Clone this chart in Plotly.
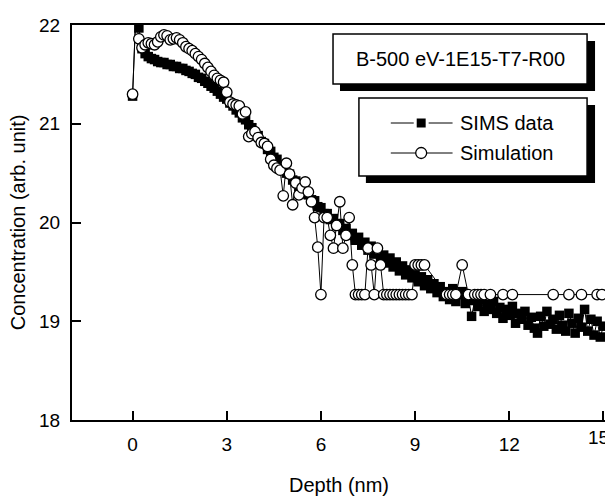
import plotly.graph_objects as go

# ---------------- data ----------------
sims_depth = [0.0, 0.1, 0.2, 0.3, 0.4, 0.5, 0.6, 0.7, 0.8, 0.9,
              1.0, 1.1, 1.2, 1.3, 1.4, 1.5, 1.6, 1.7, 1.8, 1.9,
              2.0, 2.1, 2.2, 2.3, 2.4, 2.5, 2.6, 2.7, 2.8, 2.9,
              3.0, 3.1, 3.2, 3.3, 3.4, 3.5, 3.6, 3.7, 3.8, 3.9,
              4.0, 4.1, 4.2, 4.3, 4.4, 4.5, 4.6, 4.7, 4.8, 4.9,
              5.0, 5.1, 5.2, 5.3, 5.4, 5.5, 5.6, 5.7, 5.8, 5.9,
              6.0, 6.1, 6.2, 6.3, 6.4, 6.5, 6.6, 6.7, 6.8, 6.9,
              7.0, 7.1, 7.2, 7.3, 7.4, 7.5, 7.6, 7.7, 7.8, 7.9,
              8.0, 8.1, 8.2, 8.3, 8.4, 8.5, 8.6, 8.7, 8.8, 8.9,
              9.0, 9.1, 9.2, 9.3, 9.4, 9.5, 9.6, 9.7, 9.8, 9.9,
              10.0, 10.1, 10.2, 10.3, 10.4, 10.5, 10.6, 10.7, 10.8, 10.9,
              11.0, 11.1, 11.2, 11.3, 11.4, 11.5, 11.6, 11.7, 11.8, 11.9,
              12.0, 12.1, 12.2, 12.3, 12.4, 12.5, 12.6, 12.7, 12.8, 12.9,
              13.0, 13.1, 13.2, 13.3, 13.4, 13.5, 13.6, 13.7, 13.8, 13.9,
              14.0, 14.1, 14.2, 14.3, 14.4, 14.5, 14.6, 14.7, 14.8, 14.9,
              15.0]
sims_conc = [21.28, 22.10, 21.97, 21.76, 21.71, 21.68, 21.66, 21.65, 21.63, 21.62,
             21.62, 21.60, 21.60, 21.58, 21.58, 21.56, 21.56, 21.54, 21.53, 21.51,
             21.50, 21.47, 21.46, 21.43, 21.41, 21.38, 21.36, 21.33, 21.30, 21.27,
             21.25, 21.21, 21.18, 21.14, 21.11, 21.06, 21.04, 20.99, 20.96, 20.90,
             20.88, 20.82, 20.80, 20.74, 20.72, 20.66, 20.64, 20.58, 20.56, 20.50,
             20.49, 20.43, 20.42, 20.36, 20.35, 20.29, 20.28, 20.23, 20.22, 20.16,
             20.15, 20.09, 20.09, 20.03, 20.04, 19.97, 19.99, 19.92, 19.94, 19.87,
             19.89, 19.82, 19.85, 19.77, 19.80, 19.72, 19.76, 19.68, 19.72, 19.64,
             19.67, 19.59, 19.64, 19.55, 19.60, 19.51, 19.56, 19.47, 19.52, 19.44,
             19.48, 19.40, 19.45, 19.36, 19.42, 19.33, 19.38, 19.29, 19.35, 19.25,
             19.30, 19.22, 19.33, 19.20, 19.27, 19.30, 19.18, 19.24, 19.05, 19.21,
             19.15, 19.22, 19.10, 19.17, 19.12, 19.20, 19.08, 19.14, 19.03, 19.12,
             19.06, 19.15, 18.98, 19.08, 19.02, 19.10, 18.96, 19.04, 18.93, 18.88,
             19.05, 18.95, 19.10, 18.97, 19.02, 18.92, 19.06, 18.96, 18.90, 19.08,
             18.98, 18.88, 19.03, 18.94, 19.12, 18.90, 19.02, 18.86, 19.00, 18.84,
             18.95]

sim_depth = [0.0, 0.1, 0.2, 0.3, 0.4, 0.5, 0.6, 0.7, 0.8, 0.9,
             1.0, 1.1, 1.2, 1.3, 1.4, 1.5, 1.6, 1.7, 1.8, 1.9,
             2.0, 2.1, 2.2, 2.3, 2.4, 2.5, 2.6, 2.7, 2.8, 2.9,
             3.0, 3.1, 3.2, 3.3, 3.4, 3.5, 3.6, 3.7, 3.8, 3.9,
             4.0, 4.1, 4.2, 4.3, 4.4, 4.5, 4.6, 4.7, 4.8, 4.9,
             5.0, 5.1, 5.2, 5.3, 5.4, 5.5, 5.6, 5.7, 5.8, 5.9,
             6.0, 6.1, 6.2, 6.3, 6.4, 6.5, 6.6, 6.7, 6.8, 6.9,
             7.0, 7.1, 7.2, 7.3, 7.4, 7.5, 7.6, 7.7, 7.8, 7.9,
             8.0, 8.1, 8.2, 8.3, 8.4, 8.5, 8.6, 8.7, 8.8, 8.9,
             9.0, 9.1, 9.2, 9.3, 10.0, 10.1, 10.2, 10.3, 10.5, 10.7,
             10.9, 11.0, 11.1, 11.2, 11.4, 11.8, 12.1, 13.4, 13.9, 14.3,
             14.8, 14.95]
sim_conc = [21.30, 22.07, 21.86, 21.77, 21.80, 21.82, 21.81, 21.80, 21.83, 21.88,
            21.90, 21.89, 21.85, 21.86, 21.87, 21.85, 21.82, 21.78, 21.76, 21.74,
            21.71, 21.68, 21.65, 21.61, 21.57, 21.53, 21.49, 21.46, 21.44, 21.42,
            21.32, 21.22, 21.20, 21.19, 21.18, 21.10, 21.12, 20.87, 20.90, 20.92,
            20.86, 20.81, 20.80, 20.77, 20.64, 20.58, 20.55, 20.53, 20.27, 20.60,
            20.49, 20.18, 20.40, 20.28, 20.35, 20.41, 20.31, 20.21, 20.05, 19.75,
            19.27, 20.05, 20.05, 19.87, 19.74, 19.97, 20.21, 19.74, 19.87, 20.05,
            19.57, 19.27, 19.27, 19.27, 19.27, 19.74, 19.57, 19.27, 19.74, 19.57,
            19.27, 19.27, 19.27, 19.27, 19.27, 19.27, 19.27, 19.27, 19.27, 19.27,
            19.57, 19.57, 19.57, 19.57, 19.27, 19.27, 19.27, 19.27, 19.57, 19.27,
            19.27, 19.27, 19.27, 19.27, 19.27, 19.27, 19.27, 19.27, 19.27, 19.27,
            19.27, 19.27]

x_ticks = [0, 3, 6, 9, 12, 15]
y_ticks = [18, 19, 20, 21, 22]
series_names = ["SIMS data", "Simulation"]
box_label = "B-500 eV-1E15-T7-R00"
x_title = "Depth (nm)"
y_title = "Concentration (arb. unit)"

# ---------------- layout geometry (page pixels) ----------------
OFF = 8                        # page body margin of the html page
W, H = 613 - OFF, 497 - OFF    # figure size that fits the window
L, R, T, B = 72, 607, 25, 420  # plot area in page pixels
FONT = "Liberation Sans, Arial, Helvetica, sans-serif"


def px(x):
    return (x - L) / (R - L)


def py(y):
    return (B - y) / (B - T)


fig = go.Figure()
fig.add_trace(go.Scatter(
    x=sims_depth, y=sims_conc, mode="lines+markers", name=series_names[0],
    line=dict(color="black", width=1),
    marker=dict(symbol="square", size=9.5, color="black", line=dict(width=0)),
    cliponaxis=False, showlegend=False))
fig.add_trace(go.Scatter(
    x=sim_depth, y=sim_conc, mode="lines+markers", name=series_names[1],
    line=dict(color="black", width=1),
    marker=dict(symbol="circle", size=10.5, color="white",
                line=dict(color="black", width=1.3)),
    cliponaxis=False, showlegend=False))

shapes = []
annotations = []

# label box with drop shadow
shapes.append(dict(type="rect", xref="paper", yref="paper",
                   x0=px(341), x1=px(597), y0=py(91), y1=py(41),
                   fillcolor="black", line=dict(width=0)))
shapes.append(dict(type="rect", xref="paper", yref="paper",
                   x0=px(334), x1=px(589), y0=py(84), y1=py(34),
                   fillcolor="white", line=dict(color="black", width=1.5)))
annotations.append(dict(xref="paper", yref="paper", x=px(462), y=py(59),
                        text=box_label, showarrow=False,
                        xanchor="center", yanchor="middle",
                        font=dict(family=FONT, size=20, color="black")))

# legend box with drop shadow
shapes.append(dict(type="rect", xref="paper", yref="paper",
                   x0=px(367), x1=px(597), y0=py(183), y1=py(105),
                   fillcolor="black", line=dict(width=0)))
shapes.append(dict(type="rect", xref="paper", yref="paper",
                   x0=px(360), x1=px(589), y0=py(176), y1=py(98),
                   fillcolor="white", line=dict(color="black", width=1.5)))
rows = [123, 153]
for i, yy in enumerate(rows):
    shapes.append(dict(type="line", xref="paper", yref="paper",
                       x0=px(392), x1=px(454), y0=py(yy), y1=py(yy),
                       line=dict(color="black", width=1)))
    annotations.append(dict(xref="paper", yref="paper", x=px(459), y=py(yy),
                            text=series_names[i], showarrow=False,
                            xanchor="left", yanchor="middle",
                            font=dict(family=FONT, size=20, color="black")))
# legend sample markers
shapes.append(dict(type="rect", xref="paper", yref="paper",
                   x0=px(415), x1=px(430), y0=py(129), y1=py(117),
                   fillcolor="white", line=dict(width=0)))
shapes.append(dict(type="rect", xref="paper", yref="paper",
                   x0=px(418), x1=px(427), y0=py(127.5), y1=py(118.5),
                   fillcolor="black", line=dict(width=0)))
shapes.append(dict(type="circle", xref="paper", yref="paper",
                   x0=px(417), x1=px(428), y0=py(158.5), y1=py(147.5),
                   fillcolor="white", line=dict(color="black", width=1.3)))

# axis titles
annotations.append(dict(xref="paper", yref="paper", x=px(340), y=py(485),
                        text=x_title, showarrow=False,
                        xanchor="center", yanchor="middle",
                        font=dict(family=FONT, size=20, color="black")))
annotations.append(dict(xref="paper", yref="paper", x=px(18), y=py(222),
                        text=y_title, showarrow=False, textangle=-90,
                        xanchor="center", yanchor="middle", borderpad=0,
                        font=dict(family=FONT, size=20, color="black")))

# last x tick label sits at the page edge: keep it fully inside the page
x_ticktext = [str(v) for v in x_ticks]
last_label = x_ticktext[-1]
x_ticktext[-1] = ""
annotations.append(dict(xref="paper", yref="paper", x=px(612.5), y=py(437),
                        text=last_label, showarrow=False, borderpad=0,
                        xanchor="right", yanchor="middle",
                        font=dict(family=FONT, size=19, color="black")))

axis_common = dict(showgrid=False, zeroline=False, showline=True,
                   linecolor="black", linewidth=2, mirror=True,
                   ticks="inside", ticklen=9, tickwidth=1.5, tickcolor="black",
                   tickfont=dict(family=FONT, size=19, color="black"))

fig.update_layout(
    width=W, height=H,
    margin=dict(l=L - OFF, r=W - (R - OFF), t=T - OFF, b=H - (B - OFF), pad=0),
    paper_bgcolor="white", plot_bgcolor="white",
    shapes=shapes, annotations=annotations,
    xaxis=dict(range=[-1.93, 15.05], tickvals=x_ticks,
               ticktext=x_ticktext,
               ticklabelstandoff=6, **axis_common),
    yaxis=dict(range=[18, 22], tickvals=y_ticks,
               ticktext=[str(v) for v in y_ticks],
               ticklabelstandoff=6, **axis_common),
)

fig.write_html("out.html")
